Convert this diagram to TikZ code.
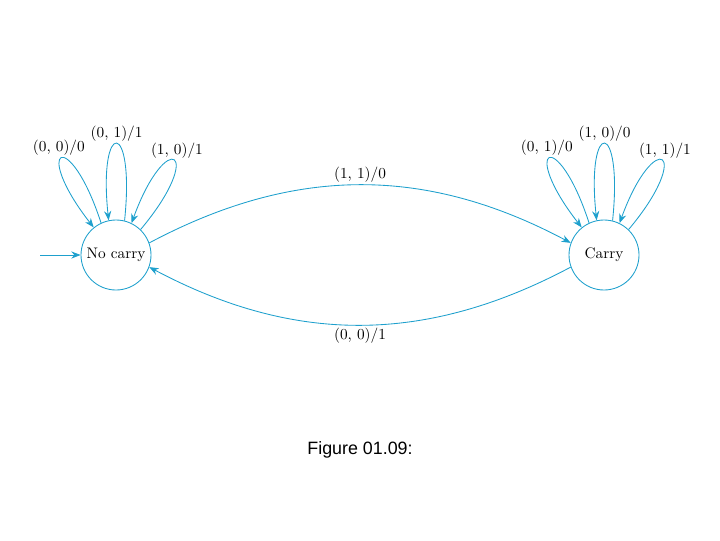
\documentclass[tikz,border=0pt]{standalone}
\usepackage{fontspec}
\newfontfamily\capfont{Liberation Sans}
\usepackage{xcolor}
\usepackage{tikz}
\usetikzlibrary{arrows.meta, positioning}
\definecolor{fsmblue}{RGB}{30,160,205}

\begin{document}
\begin{tikzpicture}[x=0.7pt, y=0.7pt, >={Stealth[length=6.5pt,width=5pt]},
  font=\fontsize{10.7}{13}\selectfont,
  state/.style={circle, draw=fsmblue, line width=0.6pt, minimum size=49pt, inner sep=0pt},
  trans/.style={->, fsmblue, line width=0.6pt},
  lbl/.style={text=black, inner sep=1.5pt}]
\useasboundingbox (0,0) rectangle (720,540);
% States
\node[state] (nocarry) at (116,285) {No carry};
\node[state] (carry) at (604,285) {Carry};
\coordinate (start) at (40,285);
% Start arrow
\draw[trans] (start) -- (nocarry);
% Loops on No carry
\draw[trans] (nocarry.115) to[out=108, in=128, distance=72pt] node[lbl, above, xshift=-2pt] {(0, 0)/0} (nocarry.129);
\draw[trans] (nocarry.76) to[out=84, in=96, distance=72pt] node[lbl, above] {(0, 1)/1} (nocarry.102);
\draw[trans] (nocarry.46) to[out=50, in=70, distance=72pt] node[lbl, above, xshift=2pt] {(1, 0)/1} (nocarry.64);
% Loops on Carry
\draw[trans] (carry.115) to[out=108, in=128, distance=72pt] node[lbl, above, xshift=-2pt] {(0, 1)/0} (carry.129);
\draw[trans] (carry.76) to[out=84, in=96, distance=72pt] node[lbl, above] {(1, 0)/0} (carry.102);
\draw[trans] (carry.46) to[out=50, in=70, distance=72pt] node[lbl, above, xshift=2pt] {(1, 1)/1} (carry.64);
% Between the states
\draw[trans] (nocarry.20) to[out=28, in=152] node[lbl, above] {(1, 1)/0} (carry.160);
\draw[trans] (carry.200) to[out=208, in=332] node[lbl, below] {(0, 0)/1} (nocarry.340);
% Caption
\node (caption) at (360,90) {\capfont\fontsize{12.5}{15}\selectfont Figure 01.09:};
\end{tikzpicture}
\end{document}
